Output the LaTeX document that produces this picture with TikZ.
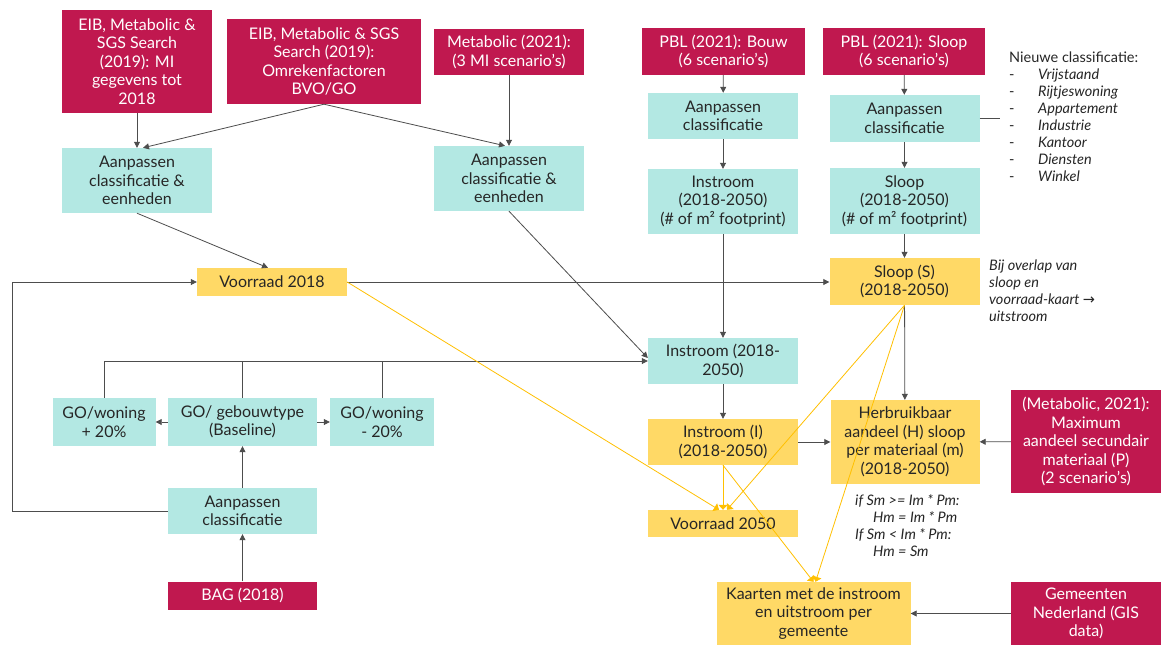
\documentclass[tikz,border=0pt]{standalone}
\usepackage{fontspec}
\setmainfont{Lato}
\newfontfamily\dejavu{DejaVu Sans}
\usetikzlibrary{arrows.meta}
\definecolor{mag}{HTML}{C0184F}
\definecolor{cteal}{HTML}{B3E8E3}
\definecolor{cyel}{HTML}{FFD966}
\definecolor{lyel}{HTML}{FFC000}
\definecolor{ln}{HTML}{4D4D4D}
\definecolor{txt}{HTML}{262626}
\begin{document}
\begin{tikzpicture}[x=1pt,y=-1pt,
 box/.style={inner sep=0pt, align=center, font=\fontsize{16}{18.5}\selectfont, text=txt},
 src/.style={box, fill=mag, text=white},
 proc/.style={box, fill=cteal},
 res/.style={box, fill=cyel},
 con/.style={draw=ln, line width=0.8pt, -{Triangle[length=6pt,width=6pt]}},
 pline/.style={draw=ln, line width=0.8pt},
 ycon/.style={draw=lyel, line width=0.8pt, -{Triangle[length=5pt,width=9pt]}},
 note/.style={align=left, font=\fontsize{14.5}{17}\selectfont, text=txt, inner sep=0pt, anchor=north west}
]
\useasboundingbox[fill=white] (0,0) rectangle (1163,646);

% sources
\node[src, minimum width=150pt, minimum height=103pt] (A) at (137,61.5) {EIB, Metabolic \&\\SGS Search\\(2019): MI\\gegevens tot\\2018};
\node[src, minimum width=194pt, minimum height=85pt] (B) at (324,61.5) {EIB, Metabolic \& SGS\\Search (2019):\\Omrekenfactoren\\BVO/GO};
\node[src, minimum width=150pt, minimum height=46pt] (C) at (509,52) {Metabolic (2021):\\(3 MI scenario’s)};
\node[src, minimum width=163pt, minimum height=47pt] (D) at (723.5,51.5) {PBL (2021): Bouw\\(6 scenario’s)};
\node[src, minimum width=162pt, minimum height=47pt] (E) at (904,51.5) {PBL (2021): Sloop\\(6 scenario’s)};
\node[src, minimum width=150pt, minimum height=103pt] (T) at (1086,441.5) {(Metabolic, 2021):\\Maximum\\aandeel secundair\\materiaal (P)\\(2 scenario’s)};
\node[src, minimum width=150pt, minimum height=63pt] (Y) at (1086,613.5) {Gemeenten\\Nederland (GIS\\data)};
\node[src, minimum width=149pt, minimum height=28pt] (W) at (242.5,595.5) {BAG (2018)};

% processing
\node[proc, minimum width=150pt, minimum height=65pt] (F) at (137,180.5) {Aanpassen\\classificatie \&\\eenheden};
\node[proc, minimum width=150pt, minimum height=65pt] (G) at (509,178.5) {Aanpassen\\classificatie \&\\eenheden};
\node[proc, minimum width=150pt, minimum height=46pt] (H) at (723,116) {Aanpassen\\classificatie};
\node[proc, minimum width=150pt, minimum height=47pt] (I) at (904.5,118.5) {Aanpassen\\classificatie};
\node[proc, minimum width=150pt, minimum height=65pt] (J) at (723,201.5) {Instroom\\(2018-2050)\\(\# of m² footprint)};
\node[proc, minimum width=150pt, minimum height=66pt] (K) at (904.5,201) {Sloop\\(2018-2050)\\(\# of m² footprint)};
\node[proc, minimum width=150pt, minimum height=46pt] (N) at (723,361) {Instroom (2018-\\2050)};
\node[proc, minimum width=103pt, minimum height=48pt] (O) at (104,422) {GO/woning\\+ 20\%};
\node[proc, minimum width=149pt, minimum height=48pt] (P) at (242.5,422) {GO/ gebouwtype\\(Baseline)};
\node[proc, minimum width=104pt, minimum height=48pt] (Q) at (382,422) {GO/woning\\- 20\%};
\node[proc, minimum width=149pt, minimum height=46pt] (V) at (242.5,511) {Aanpassen\\classificatie};

% results
\node[res, minimum width=150pt, minimum height=28pt] (L) at (272,282) {Voorraad 2018};
\node[res, minimum width=150pt, minimum height=47pt] (M) at (904.5,281.5) {Sloop (S)\\(2018-2050)};
\node[res, minimum width=150pt, minimum height=46pt] (R) at (723,442) {Instroom (I)\\(2018-2050)};
\node[res, minimum width=149pt, minimum height=84pt] (S) at (905,442) {Herbruikbaar\\aandeel (H) sloop\\per materiaal (m)\\(2018-2050)};
\node[res, minimum width=150pt, minimum height=27pt] (U) at (723,523.5) {Voorraad 2050};
\node[res, minimum width=194pt, minimum height=63pt] (X) at (813.5,613.5) {Kaarten met de instroom\\en uitstroom per\\gemeente};

% notes
\node[note] (cls) at (1009,52) {Nieuwe classificatie:\\
\makebox[29pt][l]{-}\textit{Vrijstaand}\\
\makebox[29pt][l]{-}\textit{Rijtjeswoning}\\
\makebox[29pt][l]{-}\textit{Appartement}\\
\makebox[29pt][l]{-}\textit{Industrie}\\
\makebox[29pt][l]{-}\textit{Kantoor}\\
\makebox[29pt][l]{-}\textit{Diensten}\\
\makebox[29pt][l]{-}\textit{Winkel}};
\node[note, font=\fontsize{14.5}{17}\selectfont\itshape] (ovl) at (989,260) {Bij overlap van\\sloop en\\voorraad-kaart {\dejavu\upshape →}\\uitstroom};
\node[note, font=\fontsize{14.5}{17}\selectfont\itshape] (iff) at (855,494) {if Sm >= Im * Pm:\\
\hspace*{18pt}Hm = Im * Pm\\
If Sm < Im * Pm:\\
\hspace*{18pt}Hm = Sm};

\coordinate (clend) at (1000,118.5);
\coordinate (lp) at (12.6,511);

% black connectors
\draw[con] (A) -- (F);
\draw[con] (B.south) -- ([xshift=6pt]F.north);
\draw[con] (B.south) -- ([xshift=-4pt]G.north);
\draw[con] (C) -- (G);
\draw[con] (F.south) -- ([xshift=-4pt]L.north);
\draw[con] (G.south) -- ([yshift=3pt]N.west);
\draw[con] (O.north) |- (N.west);
\draw[pline] (P.north) -- (P.north |- N.west);
\draw[pline] (Q.north) -- (Q.north |- N.west);
\draw[con] (D) -- (H);
\draw[con] (H) -- (J);
\draw[con] (J) -- (N);
\draw[con] (N) -- (R);
\draw[con] (E) -- (I);
\draw[con] (I) -- (K);
\draw[con] (K) -- (M);
\draw[con] (M) -- (S);
\draw[pline] (I.east) -- (clend);
\draw[con] (L.east) -- (L.east -| M.west);
\draw[con] (V.west) -- (lp) |- (L.west);
\draw[con] (P.west) -- (O.east);
\draw[con] (P.east) -- (Q.west);
\draw[con] (V) -- (P);
\draw[con] (W) -- (V);
\draw[con] (R) -- (S);
\draw[con] (T) -- (S);
\draw[con] (Y) -- (X);

% yellow connectors
\draw[ycon] (L.east) -- ([xshift=-4pt]U.north);
\draw[ycon] (M.south) -- ([xshift=4pt]U.north);
\draw[ycon] (M.south) -- ([xshift=2pt]X.north);
\draw[ycon] (R.south) -- (U.north);
\draw[ycon] (R.south) -- (X.north);
\end{tikzpicture}
\end{document}
